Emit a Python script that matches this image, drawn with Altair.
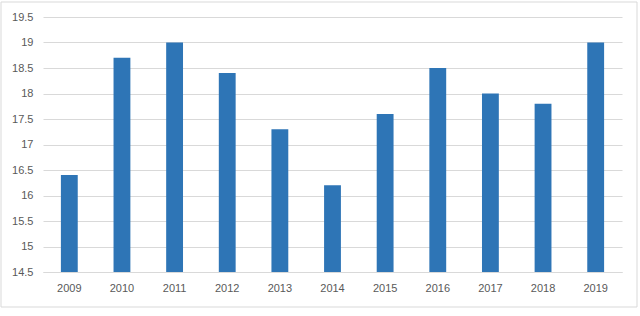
import altair as alt
import pandas as pd

years = ["2009", "2010", "2011", "2012", "2013", "2014", "2015", "2016", "2017", "2018", "2019"]
values = [16.4, 18.7, 19.0, 18.4, 17.3, 16.2, 17.6, 18.5, 18.0, 17.8, 19.0]
y_ticks = [14.5, 15, 15.5, 16, 16.5, 17, 17.5, 18, 18.5, 19, 19.5]

df = pd.DataFrame({"year": years, "value": values})

W, H = 579, 255

border = alt.Chart(pd.DataFrame({"a": [0]})).mark_rect(
    fill=None, stroke="#d9d9d9", strokeWidth=1
).encode(
    x=alt.value(-42), x2=alt.value(594), y=alt.value(-15), y2=alt.value(290)
)

bars = alt.Chart(df).mark_bar(color="#2E75B6").encode(
    x=alt.X("year:N", sort=years,
            scale=alt.Scale(paddingInner=0.68, paddingOuter=0.34),
            axis=alt.Axis(title=None, labelAngle=0, ticks=False, domain=True,
                          domainColor="#d9d9d9", labelPadding=10,
                          labelColor="#595959", labelFontSize=11,
                          labelFont="Liberation Sans", grid=False)),
    y=alt.Y("value:Q",
            scale=alt.Scale(domain=[14.5, 19.5], zero=False, nice=False),
            axis=alt.Axis(title=None, values=y_ticks, format="~g", ticks=False, domain=False,
                          gridColor="#d9d9d9", labelPadding=10,
                          labelColor="#595959", labelFontSize=11,
                          labelFont="Liberation Sans")),
    y2=alt.datum(14.5),
)

chart = alt.layer(border, bars).properties(
    width=W, height=H,
    autosize=alt.AutoSizeParams(type="none"),
    padding={"left": 43, "top": 17, "right": 18, "bottom": 44},
    background="white",
).configure_view(stroke=None)

chart.save("out.html", embed_options={"renderer": "svg", "actions": False})
